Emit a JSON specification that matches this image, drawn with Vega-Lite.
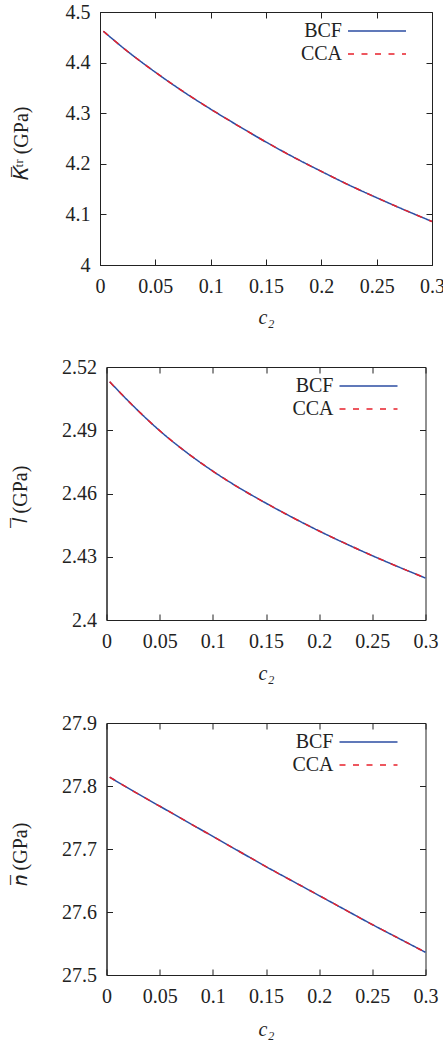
{
  "$schema": "https://vega.github.io/schema/vega-lite/v6.json",
  "padding": {"left": 9, "top": 1, "right": 0, "bottom": 0},
  "config": {
    "view": {"stroke": "#222", "strokeWidth": 1},
    "axis": {
      "domainColor": "#222", "tickColor": "#222", "tickSize": -6, "tickWidth": 1,
      "labelFont": "Liberation Serif", "labelFontSize": 20, "labelColor": "#222",
      "titleFont": "Liberation Serif", "titleFontSize": 20, "titleFontWeight": "normal", "titleColor": "#222",
      "grid": false, "labelFlush": false, "labelOverlap": false
    },
    "axisX": {"labelPadding": 17},
    "axisY": {"labelPadding": 16},
    "legend": {
      "orient": "none", "title": null, "symbolType": "M-2.9,0H2.9", "symbolSize": 400, "symbolStrokeWidth": 1.5,
      "labelAlign": "right", "labelOffset": -46, "labelFont": "Liberation Serif", "labelFontSize": 20,
      "labelColor": "#222", "rowPadding": 2, "padding": 0
    }
  },
  "datasets": {
    "K": [
      {"c2": 0.003, "value": 4.462, "method": "BCF"}, {"c2": 0.025, "value": 4.422, "method": "BCF"},
      {"c2": 0.05, "value": 4.381, "method": "BCF"}, {"c2": 0.075, "value": 4.343, "method": "BCF"},
      {"c2": 0.1, "value": 4.308, "method": "BCF"}, {"c2": 0.125, "value": 4.275, "method": "BCF"},
      {"c2": 0.15, "value": 4.243, "method": "BCF"}, {"c2": 0.175, "value": 4.213, "method": "BCF"},
      {"c2": 0.2, "value": 4.185, "method": "BCF"}, {"c2": 0.225, "value": 4.158, "method": "BCF"},
      {"c2": 0.25, "value": 4.133, "method": "BCF"}, {"c2": 0.275, "value": 4.109, "method": "BCF"},
      {"c2": 0.3, "value": 4.086, "method": "BCF"},
      {"c2": 0.003, "value": 4.462, "method": "CCA"}, {"c2": 0.025, "value": 4.422, "method": "CCA"},
      {"c2": 0.05, "value": 4.381, "method": "CCA"}, {"c2": 0.075, "value": 4.343, "method": "CCA"},
      {"c2": 0.1, "value": 4.308, "method": "CCA"}, {"c2": 0.125, "value": 4.275, "method": "CCA"},
      {"c2": 0.15, "value": 4.243, "method": "CCA"}, {"c2": 0.175, "value": 4.213, "method": "CCA"},
      {"c2": 0.2, "value": 4.185, "method": "CCA"}, {"c2": 0.225, "value": 4.158, "method": "CCA"},
      {"c2": 0.25, "value": 4.133, "method": "CCA"}, {"c2": 0.275, "value": 4.109, "method": "CCA"},
      {"c2": 0.3, "value": 4.086, "method": "CCA"}
    ],
    "L": [
      {"c2": 0.003, "value": 2.513, "method": "BCF"}, {"c2": 0.025, "value": 2.5016, "method": "BCF"},
      {"c2": 0.05, "value": 2.4898, "method": "BCF"}, {"c2": 0.075, "value": 2.4796, "method": "BCF"},
      {"c2": 0.1, "value": 2.4706, "method": "BCF"}, {"c2": 0.125, "value": 2.4626, "method": "BCF"},
      {"c2": 0.15, "value": 2.4554, "method": "BCF"}, {"c2": 0.175, "value": 2.4486, "method": "BCF"},
      {"c2": 0.2, "value": 2.4422, "method": "BCF"}, {"c2": 0.225, "value": 2.4362, "method": "BCF"},
      {"c2": 0.25, "value": 2.4305, "method": "BCF"}, {"c2": 0.275, "value": 2.4251, "method": "BCF"},
      {"c2": 0.3, "value": 2.4199, "method": "BCF"},
      {"c2": 0.003, "value": 2.513, "method": "CCA"}, {"c2": 0.025, "value": 2.5016, "method": "CCA"},
      {"c2": 0.05, "value": 2.4898, "method": "CCA"}, {"c2": 0.075, "value": 2.4796, "method": "CCA"},
      {"c2": 0.1, "value": 2.4706, "method": "CCA"}, {"c2": 0.125, "value": 2.4626, "method": "CCA"},
      {"c2": 0.15, "value": 2.4554, "method": "CCA"}, {"c2": 0.175, "value": 2.4486, "method": "CCA"},
      {"c2": 0.2, "value": 2.4422, "method": "CCA"}, {"c2": 0.225, "value": 2.4362, "method": "CCA"},
      {"c2": 0.25, "value": 2.4305, "method": "CCA"}, {"c2": 0.275, "value": 2.4251, "method": "CCA"},
      {"c2": 0.3, "value": 2.4199, "method": "CCA"}
    ],
    "N": [
      {"c2": 0.003, "value": 27.814, "method": "BCF"}, {"c2": 0.025, "value": 27.792, "method": "BCF"},
      {"c2": 0.05, "value": 27.768, "method": "BCF"}, {"c2": 0.075, "value": 27.744, "method": "BCF"},
      {"c2": 0.1, "value": 27.72, "method": "BCF"}, {"c2": 0.125, "value": 27.696, "method": "BCF"},
      {"c2": 0.15, "value": 27.672, "method": "BCF"}, {"c2": 0.175, "value": 27.649, "method": "BCF"},
      {"c2": 0.2, "value": 27.626, "method": "BCF"}, {"c2": 0.225, "value": 27.603, "method": "BCF"},
      {"c2": 0.25, "value": 27.58, "method": "BCF"}, {"c2": 0.275, "value": 27.558, "method": "BCF"},
      {"c2": 0.3, "value": 27.536, "method": "BCF"},
      {"c2": 0.003, "value": 27.814, "method": "CCA"}, {"c2": 0.025, "value": 27.792, "method": "CCA"},
      {"c2": 0.05, "value": 27.768, "method": "CCA"}, {"c2": 0.075, "value": 27.744, "method": "CCA"},
      {"c2": 0.1, "value": 27.72, "method": "CCA"}, {"c2": 0.125, "value": 27.696, "method": "CCA"},
      {"c2": 0.15, "value": 27.672, "method": "CCA"}, {"c2": 0.175, "value": 27.649, "method": "CCA"},
      {"c2": 0.2, "value": 27.626, "method": "CCA"}, {"c2": 0.225, "value": 27.603, "method": "CCA"},
      {"c2": 0.25, "value": 27.58, "method": "CCA"}, {"c2": 0.275, "value": 27.558, "method": "CCA"},
      {"c2": 0.3, "value": 27.536, "method": "CCA"}
    ]
  },
  "spacing": 28,
  "center": true,
  "resolve": {"scale": {"color": "independent", "strokeDash": "independent"}},
  "vconcat": [
    {
      "resolve": {"scale": {"color": "independent", "strokeDash": "independent"}},
      "hconcat": [
        {
          "width": 332, "height": 253,
          "data": {"name": "K"},
          "resolve": {"axis": {"x": "independent", "y": "independent"}},
          "layer": [
            {
              "mark": {"type": "line", "strokeWidth": 1.5, "interpolate": "monotone"},
              "encoding": {
                "x": {"field": "c2", "type": "quantitative", "scale": {"domain": [0, 0.3], "nice": false, "zero": false},
                      "axis": {"orient": "bottom", "values": [0, 0.05, 0.1, 0.15, 0.2, 0.25, 0.3], "format": "~g",
                               "title": "c₂", "titleFontStyle": "italic", "titleBaseline": "alphabetic", "titleY": 58}},
                "y": {"field": "value", "type": "quantitative", "scale": {"domain": [4, 4.5], "nice": false, "zero": false},
                      "axis": {"orient": "left", "values": [4, 4.1, 4.2, 4.3, 4.4, 4.5], "format": "~g",
                               "title": "𝐾̅ᵗʳ  (GPa)", "titleX": -79, "titleY": 131, "titleBaseline": "middle"}},
                "color": {"field": "method", "type": "nominal", "scale": {"domain": ["BCF", "CCA"], "range": ["#2c4ea3", "#e8212b"]},
                          "legend": {"legendX": 266, "legendY": 8}},
                "strokeDash": {"field": "method", "type": "nominal", "scale": {"domain": ["BCF", "CCA"], "range": [[1, 0], [6, 7.5]]},
                          "legend": {"legendX": 266, "legendY": 8}}
              }
            },
            {
              "mark": {"type": "point", "opacity": 0},
              "encoding": {
                "x": {"field": "c2", "type": "quantitative", "axis": {"orient": "top", "values": [0, 0.05, 0.1, 0.15, 0.2, 0.25, 0.3], "labels": false, "title": null, "domain": false}},
                "y": {"field": "value", "type": "quantitative", "axis": {"orient": "right", "values": [4, 4.1, 4.2, 4.3, 4.4, 4.5], "labels": false, "title": null, "domain": false}}
              }
            }
          ]
        }
      ]
    },
    {
      "resolve": {"scale": {"color": "independent", "strokeDash": "independent"}},
      "hconcat": [
        {
          "width": 319, "height": 253,
          "data": {"name": "L"},
          "resolve": {"axis": {"x": "independent", "y": "independent"}},
          "layer": [
            {
              "mark": {"type": "line", "strokeWidth": 1.5, "interpolate": "monotone"},
              "encoding": {
                "x": {"field": "c2", "type": "quantitative", "scale": {"domain": [0, 0.3], "nice": false, "zero": false},
                      "axis": {"orient": "bottom", "values": [0, 0.05, 0.1, 0.15, 0.2, 0.25, 0.3], "format": "~g",
                               "title": "c₂", "titleFontStyle": "italic", "titleBaseline": "alphabetic", "titleY": 59}},
                "y": {"field": "value", "type": "quantitative", "scale": {"domain": [2.4, 2.52], "nice": false, "zero": false},
                      "axis": {"orient": "left", "values": [2.4, 2.43, 2.46, 2.49, 2.52], "format": "~g",
                               "title": "𝑙̅ (GPa)", "titleX": -86, "titleY": 127, "titleBaseline": "middle"}},
                "color": {"field": "method", "type": "nominal", "scale": {"domain": ["BCF", "CCA"], "range": ["#2c4ea3", "#e8212b"]},
                          "legend": {"legendX": 251, "legendY": 8}},
                "strokeDash": {"field": "method", "type": "nominal", "scale": {"domain": ["BCF", "CCA"], "range": [[1, 0], [6, 7.5]]},
                          "legend": {"legendX": 251, "legendY": 8}}
              }
            },
            {
              "mark": {"type": "point", "opacity": 0},
              "encoding": {
                "x": {"field": "c2", "type": "quantitative", "axis": {"orient": "top", "values": [0, 0.05, 0.1, 0.15, 0.2, 0.25, 0.3], "labels": false, "title": null, "domain": false}},
                "y": {"field": "value", "type": "quantitative", "axis": {"orient": "right", "values": [2.4, 2.43, 2.46, 2.49, 2.52], "labels": false, "title": null, "domain": false}}
              }
            }
          ]
        }
      ]
    },
    {
      "resolve": {"scale": {"color": "independent", "strokeDash": "independent"}},
      "hconcat": [
        {
          "width": 319, "height": 252,
          "data": {"name": "N"},
          "resolve": {"axis": {"x": "independent", "y": "independent"}},
          "layer": [
            {
              "mark": {"type": "line", "strokeWidth": 1.5, "interpolate": "monotone"},
              "encoding": {
                "x": {"field": "c2", "type": "quantitative", "scale": {"domain": [0, 0.3], "nice": false, "zero": false},
                      "axis": {"orient": "bottom", "values": [0, 0.05, 0.1, 0.15, 0.2, 0.25, 0.3], "format": "~g",
                               "title": "c₂", "titleFontStyle": "italic", "titleBaseline": "alphabetic", "titleY": 60}},
                "y": {"field": "value", "type": "quantitative", "scale": {"domain": [27.5, 27.9], "nice": false, "zero": false},
                      "axis": {"orient": "left", "values": [27.5, 27.6, 27.7, 27.8, 27.9], "format": "~g",
                               "title": "𝑛̅ (GPa)", "titleX": -86, "titleY": 131, "titleBaseline": "middle"}},
                "color": {"field": "method", "type": "nominal", "scale": {"domain": ["BCF", "CCA"], "range": ["#2c4ea3", "#e8212b"]},
                          "legend": {"legendX": 251, "legendY": 8}},
                "strokeDash": {"field": "method", "type": "nominal", "scale": {"domain": ["BCF", "CCA"], "range": [[1, 0], [6, 7.5]]},
                          "legend": {"legendX": 251, "legendY": 8}}
              }
            },
            {
              "mark": {"type": "point", "opacity": 0},
              "encoding": {
                "x": {"field": "c2", "type": "quantitative", "axis": {"orient": "top", "values": [0, 0.05, 0.1, 0.15, 0.2, 0.25, 0.3], "labels": false, "title": null, "domain": false}},
                "y": {"field": "value", "type": "quantitative", "axis": {"orient": "right", "values": [27.5, 27.6, 27.7, 27.8, 27.9], "labels": false, "title": null, "domain": false}}
              }
            }
          ]
        }
      ]
    }
  ]
}
